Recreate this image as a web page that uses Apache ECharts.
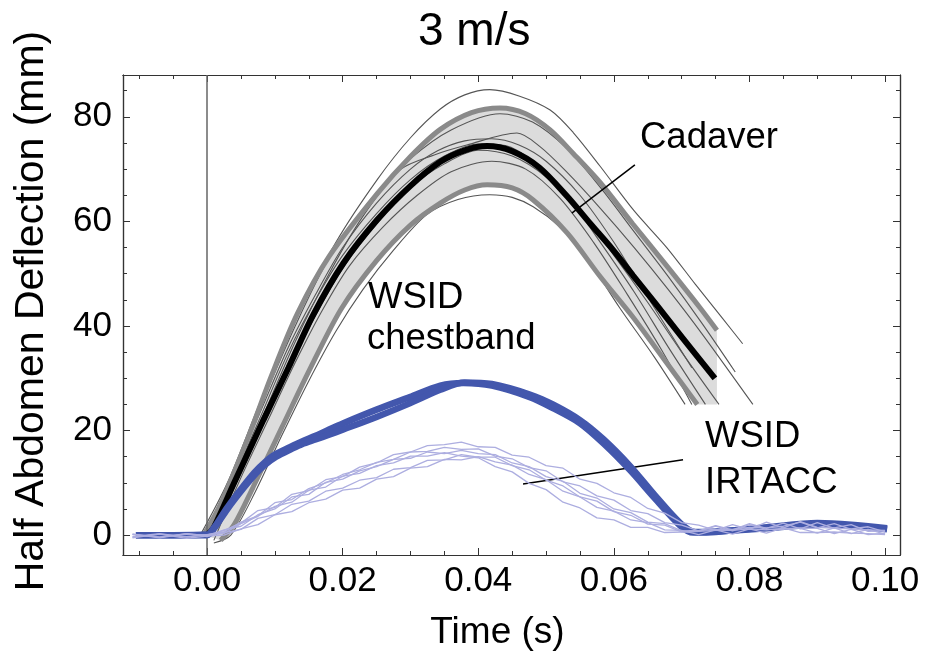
<!DOCTYPE html>
<html><head><meta charset="utf-8">
<script src="https://cdn.jsdelivr.net/npm/echarts@6/dist/echarts.min.js"></script>
<style>html,body{margin:0;padding:0;background:#fff}#c{width:925px;height:656px}</style>
</head><body><div id="c"></div>
<script>
const FONT = '"Liberation Sans", Arial, Helvetica, sans-serif';

// ---- axis ticks ----
const xMajorTicks = [0, 0.02, 0.04, 0.06, 0.08, 0.10];
const xMinorTicks = [-0.01, -0.005, 0.005, 0.01, 0.015, 0.025, 0.03, 0.035, 0.045, 0.05, 0.055, 0.065, 0.07, 0.075, 0.085, 0.09, 0.095, 0.1];
const yMajorTicks = [0, 20, 40, 60, 80];
const yMinorTicks = [5, 10, 15, 25, 30, 35, 45, 50, 55, 65, 70, 75, 85];
const xRange = [-0.0124, 0.1022];
const yRange = [-3.8, 88];

// ---- Cadaver corridor ----
const upperX = [-0.0005, 0.002, 0.006, 0.0095, 0.0133, 0.018, 0.0251, 0.030, 0.0344, 0.039, 0.0432, 0.047, 0.0506, 0.054, 0.058, 0.0628, 0.0678, 0.0727, 0.0752];
const upperY = [0, 6, 18.5, 30.5, 42.3, 53.3, 65.3, 72.4, 77.6, 80.8, 81.7, 80.6, 77.5, 73, 67.4, 59.5, 51.5, 43.5, 39.2];
const lowerX = [0.002, 0.004, 0.0068, 0.011, 0.015, 0.0198, 0.025, 0.030, 0.0344, 0.038, 0.0413, 0.045, 0.0481, 0.0531, 0.058, 0.0628, 0.0678, 0.0723];
const lowerY = [-1, 2, 9.2, 20.5, 31.3, 43.3, 52.5, 59.3, 63.5, 66, 67, 66.4, 64.1, 57.8, 49.4, 41.7, 32.9, 25];
const corridorCut = 25;
const meanX = [0, 0.001, 0.004, 0.0083, 0.012, 0.0156, 0.0201, 0.0251, 0.030, 0.0344, 0.038, 0.0413, 0.045, 0.049, 0.0531, 0.0565, 0.0599, 0.0628, 0.066, 0.070, 0.0749];
const meanY = [0, 1.5, 10, 22, 32, 42, 52, 60.3, 66.8, 71.4, 73.6, 74.4, 73.4, 70.3, 64.8, 59.6, 54.5, 49.7, 44.5, 37.9, 30];

// thin cadaver traces
const cad1X = [-0.001, 0.003, 0.008, 0.013, 0.019, 0.0251, 0.030, 0.0344, 0.038, 0.0417, 0.046, 0.0506, 0.054, 0.058, 0.063, 0.0678, 0.072, 0.076, 0.079];
const cad1Y = [0, 10, 26, 41, 56, 68, 76, 81.5, 84.2, 85.2, 84, 81.3, 77, 70.5, 62, 55, 48, 41.5, 36.6];
const cad2X = [0, 0.003, 0.008, 0.013, 0.018, 0.023, 0.0285, 0.0335, 0.0383, 0.0457, 0.0491, 0.053, 0.058, 0.063, 0.068, 0.073, 0.0805];
const cad2Y = [0, 7, 22, 37, 50, 61, 69.9, 72.7, 74.6, 76.9, 74.3, 69.5, 62.5, 55, 47, 38.5, 25];
const cad3X = [-0.0005, 0.003, 0.008, 0.013, 0.018, 0.024, 0.030, 0.036, 0.0432, 0.048, 0.053, 0.058, 0.063, 0.068, 0.073, 0.0779];
const cad3Y = [0, 9, 25, 40, 53, 64, 72, 77.5, 80.6, 79, 74, 66.5, 58, 49.5, 40.5, 31.2];
const cad4X = [0.0005, 0.004, 0.008, 0.012, 0.016, 0.020, 0.025, 0.030, 0.035, 0.040, 0.044, 0.048, 0.053, 0.058, 0.063, 0.068, 0.0735];
const cad4Y = [0, 11, 23, 35, 45, 53.5, 61.5, 68, 72.5, 74.8, 74.5, 71.5, 65, 56, 46.5, 36, 25];
const cad5X = [0, 0.004, 0.008, 0.012, 0.016, 0.020, 0.025, 0.030, 0.035, 0.040, 0.045, 0.050, 0.055, 0.060, 0.065, 0.070, 0.0755];
const cad5Y = [0, 10, 21, 32, 42, 51, 59.5, 66.5, 71, 73.6, 72.5, 68.5, 62, 53.5, 44.5, 35, 25];
const cad6X = [0.001, 0.005, 0.009, 0.013, 0.017, 0.021, 0.026, 0.031, 0.036, 0.042, 0.047, 0.052, 0.057, 0.062, 0.067, 0.0715];
const cad6Y = [-1, 11, 22, 33, 43, 51.5, 59, 65, 69.5, 71.5, 70, 64.5, 56, 46, 35.5, 25];
const cad7X = [0.001, 0.0035, 0.007, 0.011, 0.015, 0.019, 0.023, 0.0275, 0.0324, 0.037, 0.0417, 0.045, 0.0481, 0.052, 0.0555, 0.0609, 0.066, 0.0705];
const cad7Y = [-1.5, 0, 8, 19, 29.5, 39, 47, 54.5, 61.3, 64.2, 65.1, 64.6, 62.8, 59, 54, 43.4, 34, 25];
const cad8X = [0, 0.004, 0.008, 0.012, 0.016, 0.020, 0.025, 0.030, 0.034, 0.038, 0.042, 0.046, 0.050, 0.055, 0.060, 0.065, 0.0715];
const cad8Y = [0, 12, 24, 36, 46, 55, 63.5, 70, 73.5, 75.4, 75.8, 74.6, 71.5, 65, 56, 45.5, 32];

// ---- WSID chestband ----
const band1X = [-0.0105, -0.005, 0, 0.001, 0.003, 0.0053, 0.007, 0.0085, 0.010, 0.0122, 0.014, 0.016, 0.018, 0.0201, 0.025, 0.0299, 0.0344, 0.0378, 0.042, 0.0476, 0.051, 0.055, 0.0585, 0.0624, 0.066, 0.0698, 0.0717, 0.075, 0.0826, 0.09, 0.095, 0.1003];
const band1Y = [0, 0, 0.1, 1.4, 5.3, 9.3, 12.0, 13.9, 15.4, 16.8, 17.9, 19.0, 20.2, 21.4, 24, 26.4, 28.6, 29.1, 28.6, 26.4, 24.3, 21.4, 17.5, 12.4, 7.1, 1.8, 0.5, 0.6, 1.5, 2.3, 2.0, 1.3];
const band2X = [-0.0105, -0.005, 0, 0.001, 0.003, 0.0055, 0.0072, 0.0087, 0.0102, 0.0125, 0.014, 0.016, 0.018, 0.0201, 0.025, 0.0299, 0.0344, 0.038, 0.042, 0.0476, 0.051, 0.055, 0.0585, 0.0624, 0.066, 0.0698, 0.072, 0.075, 0.0826, 0.09, 0.095, 0.1003];
const band2Y = [0, 0, 0, 1.2, 5.0, 9.2, 11.8, 13.6, 15.0, 16.5, 17.4, 18.3, 19.2, 20.2, 22.6, 25.2, 27.8, 29.2, 28.9, 26.9, 25.0, 22.0, 18.3, 13.2, 7.7, 2.3, 0.6, 0.7, 1.3, 2.0, 1.8, 1.1];

// ---- WSID IRTACC ----
const irX = [-0.011, -0.007, -0.003, 0, 0.0025, 0.005, 0.0075, 0.01, 0.0125, 0.015, 0.0175, 0.02, 0.0225, 0.025, 0.0275, 0.03, 0.0325, 0.035, 0.0375, 0.04, 0.0425, 0.045, 0.0475, 0.05, 0.0525, 0.055, 0.0575, 0.06, 0.0625, 0.065, 0.0675, 0.07, 0.0725, 0.075, 0.0775, 0.08, 0.0825, 0.085, 0.0875, 0.09, 0.0925, 0.095, 0.0975, 0.1];
const ir1Y = [0.2, -0.4, 0.2, 0, 0.9, 2.3, 4.7, 5.3, 7.8, 8.5, 10.6, 11.2, 13.0, 13.8, 15.4, 15.9, 17.1, 17.3, 17.8, 16.9, 16.8, 15.3, 14.9, 13.3, 12.8, 10.7, 9.9, 8.1, 7.2, 5.1, 4.2, 2.4, 1.9, 0.9, 2.0, 1.1, 2.5, 1.4, 2.6, 1.5, 1.4, 2.0, 0.7, 0.8];
const ir2Y = [-0.3, 0.3, -0.4, 0.1, 0.6, 2.5, 3.7, 6.2, 6.8, 8.9, 10.0, 11.6, 12.5, 13.9, 14.5, 15.9, 16.0, 16.8, 16.4, 16.5, 15.1, 14.6, 12.9, 12.3, 10.2, 9.4, 7.5, 6.7, 4.7, 4.1, 2.4, 1.9, 0.8, 1.8, 1.0, 2.2, 1.3, 2.3, 1.2, 2.4, 1.3, 1.2, 1.6, 0.6];
const ir3Y = [0.2, -0.5, 0.3, -0.3, 1.0, 1.7, 3.9, 5.0, 7.3, 7.8, 10.1, 10.7, 12.3, 13.1, 14.5, 14.7, 15.9, 15.6, 16.2, 15.6, 15.4, 13.8, 13.1, 11.2, 10.3, 8.0, 7.1, 5.0, 4.3, 2.5, 2.2, 0.8, 0.9, 1.1, 1.1, 1.5, 1.4, 1.7, 2.5, 1.4, 2.2, 1.1, 1.0, 0.9];
const ir4Y = [-0.4, 0.2, -0.3, 0.1, 0.3, 2.2, 3.6, 5.5, 6.3, 8.6, 9.2, 11.3, 11.8, 13.3, 13.8, 15.1, 15.1, 15.8, 15.1, 14.8, 13.1, 12.1, 9.9, 8.7, 6.3, 5.2, 3.3, 2.9, 1.5, 1.5, 0.5, 0.6, 0.7, 1.7, 0.8, 2.0, 1.1, 1.1, 1.4, 1.3, 0.3, 1.1, 0.1, 0.4];
const ir5Y = [0.1, -0.4, 0.3, -0.1, 0.5, 1.1, 3.2, 3.9, 5.9, 6.5, 8.4, 9.0, 10.5, 11.0, 12.6, 12.9, 14.3, 14.4, 15.4, 14.9, 14.9, 13.3, 12.5, 10.5, 9.4, 7.3, 6.5, 4.5, 3.8, 2.1, 1.9, 0.6, 0.7, 0.9, 0.9, 1.2, 1.0, 1.3, 1.3, 0.4, 1.4, 0.3, 1.1, 0.2];
const ir6Y = [-0.5, 0.2, -0.6, -0.2, 0.0, 1.2, 2.0, 3.9, 4.5, 6.2, 6.9, 8.6, 9.0, 10.7, 11.2, 12.8, 13.1, 14.5, 14.4, 15.0, 14.0, 13.4, 11.6, 10.6, 8.4, 7.3, 5.3, 4.6, 2.9, 2.4, 1.0, 0.9, 0.1, 1.0, 0.2, 1.2, 0.4, 1.4, 0.5, 0.5, 0.6, 0.4, 0.3, 0.1];

// ---- annotations ----
const cadaverPointer = [[0.0631, 70.8], [0.0538, 61.6]];
const irtaccPointer = [[0.0702, 14.4], [0.0466, 9.8]];

function pairs(xs, ys) { return xs.map((x, i) => [x, ys[i]]); }

const chart = echarts.init(document.getElementById('c'));
const series = [];

// corridor fill (polygon built via axis scales)
series.push({
  type: 'custom', z: 1, silent: true, data: [[0, 0]],
  renderItem: function (params, api) {
    const pts = [];
    for (let i = 0; i < upperX.length; i++) pts.push(api.coord([upperX[i], upperY[i]]));
    pts.push(api.coord([upperX[upperX.length - 1], corridorCut]));
    for (let i = lowerX.length - 1; i >= 0; i--) pts.push(api.coord([lowerX[i], lowerY[i]]));
    return { type: 'polygon', shape: { points: pts }, style: { fill: '#dcdcdc' } };
  }
});

// vertical zero line
series.push({
  type: 'line', data: [], z: 2, silent: true,
  markLine: { silent: true, symbol: ['none', 'none'], label: { show: false }, animation: false,
    lineStyle: { color: '#666', width: 1.5, type: 'solid' }, data: [{ xAxis: 0 }] }
});

const thinList = [[cad1X, cad1Y], [cad2X, cad2Y], [cad3X, cad3Y], [cad4X, cad4Y], [cad5X, cad5Y], [cad6X, cad6Y], [cad7X, cad7Y], [cad8X, cad8Y]];
thinList.forEach(([xs, ys]) => series.push({
  type: 'line', data: pairs(xs, ys), symbol: 'none', smooth: 0.3, z: 3, silent: true,
  lineStyle: { color: '#555', width: 1.1 }
}));
[[upperX, upperY], [lowerX, lowerY]].forEach(([xs, ys]) => series.push({
  type: 'line', data: pairs(xs, ys), symbol: 'none', smooth: 0.3, z: 4, silent: true,
  lineStyle: { color: '#8a8a8a', width: 5, cap: 'butt' }
}));
series.push({
  type: 'line', data: pairs(meanX, meanY), symbol: 'none', smooth: 0.3, z: 5, silent: true,
  lineStyle: { color: '#000', width: 6, cap: 'butt' }
});
[[band1X, band1Y], [band2X, band2Y]].forEach(([xs, ys]) => series.push({
  type: 'line', data: pairs(xs, ys), symbol: 'none', smooth: 0.3, z: 6, silent: true,
  lineStyle: { color: '#4357ad', width: 6.5 }
}));
[ir1Y, ir2Y, ir3Y, ir4Y, ir5Y, ir6Y].forEach(ys => series.push({
  type: 'line', data: pairs(irX, ys), symbol: 'none', z: 7, silent: true,
  lineStyle: { color: '#adaee0', width: 1.3 }
}));
// pointer lines
series.push({
  type: 'line', data: [], z: 9, silent: true,
  markLine: { silent: true, symbol: ['none', 'none'], label: { show: false }, animation: false,
    lineStyle: { color: '#000', width: 1.5, type: 'solid' },
    data: [
      [{ coord: cadaverPointer[0] }, { coord: cadaverPointer[1] }],
      [{ coord: irtaccPointer[0] }, { coord: irtaccPointer[1] }]
    ] }
});

const axisColor = '#333';
function xAx(pos, ticks, len, labels) {
  return {
    type: 'value', position: pos, min: xRange[0], max: xRange[1],
    axisLine: { show: true, onZero: false, lineStyle: { color: axisColor, width: 1.2 } },
    axisTick: { show: true, inside: true, length: len, customValues: ticks, lineStyle: { color: axisColor, width: 1 } },
    axisLabel: labels ? { show: true, customValues: ticks, margin: 9, color: '#000', fontFamily: FONT, fontSize: 35,
      formatter: v => v.toFixed(2) } : { show: false },
    splitLine: { show: false }, minorTick: { show: false }
  };
}
function yAx(pos, ticks, len, labels) {
  return {
    type: 'value', position: pos, min: yRange[0], max: yRange[1],
    axisLine: { show: true, onZero: false, lineStyle: { color: axisColor, width: 1.2 } },
    axisTick: { show: true, inside: true, length: len, customValues: ticks, lineStyle: { color: axisColor, width: 1 } },
    axisLabel: labels ? { show: true, customValues: ticks, margin: 11, color: '#000', fontFamily: FONT, fontSize: 35,
      formatter: v => String(Math.round(v)) } : { show: false },
    splitLine: { show: false }, minorTick: { show: false }
  };
}
const xAxes = [xAx('bottom', xMajorTicks, 7, true), xAx('bottom', xMinorTicks, 4, false),
               xAx('top', xMajorTicks, 7, false), xAx('top', xMinorTicks, 4, false)];
xAxes[0].name = 'Time (s)';
xAxes[0].nameLocation = 'middle';
xAxes[0].nameGap = 59;
xAxes[0].nameTextStyle = { fontFamily: FONT, fontSize: 37, color: '#000', padding: [0, 28, 0, 0] };
const yAxes = [yAx('left', yMajorTicks, 7, true), yAx('left', yMinorTicks, 4, false),
               yAx('right', yMajorTicks, 7, false), yAx('right', yMinorTicks, 4, false)];
yAxes[0].name = 'Half Abdomen Deflection (mm)';
yAxes[0].nameLocation = 'middle';
yAxes[0].nameGap = 71;
yAxes[0].nameTextStyle = { fontFamily: FONT, fontSize: 41, color: '#000', padding: [0, 0, 0, 8] };

const annot = (txt, x, y) => ({ type: 'text', left: x, top: y, z: 100, silent: true,
  style: { text: txt, fontFamily: FONT, fontSize: 36.5, fill: '#000' } });

chart.setOption({
  animation: false,
  backgroundColor: '#fff',
  title: { text: '3 m/s', left: 413, top: 4, textStyle: { fontFamily: FONT, fontSize: 46, fontWeight: 'normal', color: '#000' } },
  grid: { left: 123, right: 25, top: 75, bottom: 101, containLabel: false },
  xAxis: xAxes,
  yAxis: yAxes,
  series: series,
  graphic: [
    annot('Cadaver', 640, 119),
    annot('WSID', 368, 279),
    annot('chestband', 367, 320),
    annot('WSID', 705, 418),
    annot('IRTACC', 705, 464)
  ]
});
</script></body></html>
